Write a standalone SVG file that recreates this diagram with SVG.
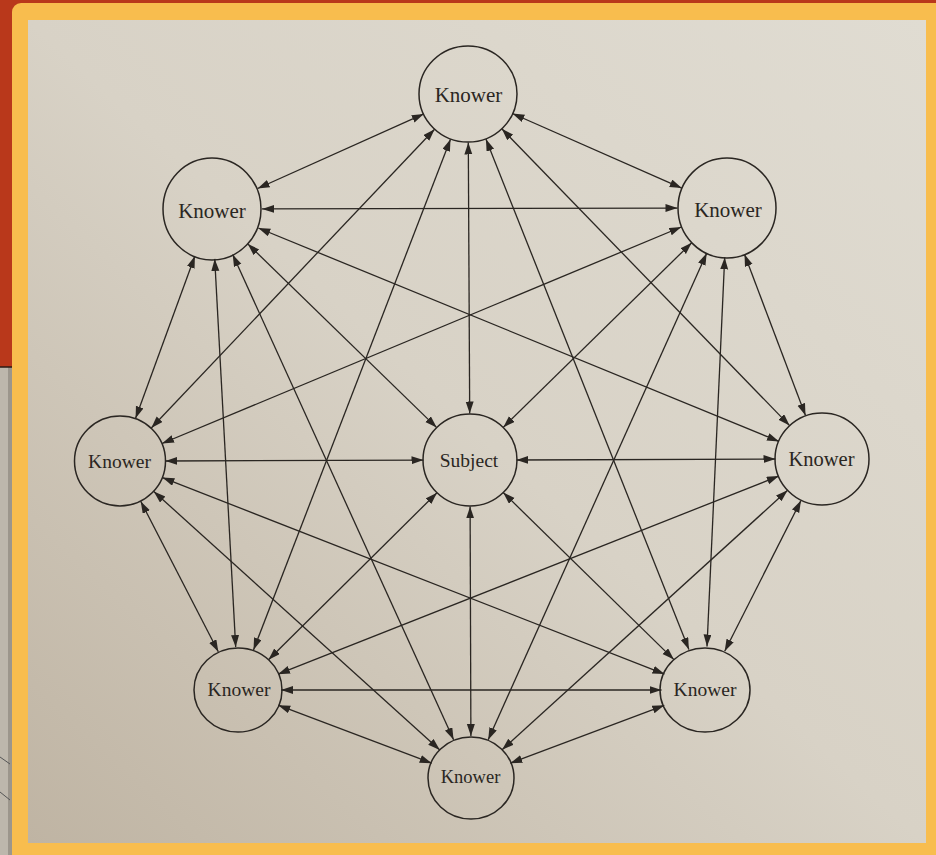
<svg xmlns="http://www.w3.org/2000/svg" width="936" height="855" viewBox="0 0 936 855">
<style>
.node ellipse{fill:none;stroke:#2a2622;stroke-width:1.5}
.node text{font-family:"Liberation Serif","DejaVu Serif",serif;fill:#2a2622;text-anchor:middle}
#connectors line{stroke:#2a2622;stroke-width:1.3;marker-start:url(#ah);marker-end:url(#ah)}
</style>
<defs>
<marker id="ah" markerUnits="userSpaceOnUse" markerWidth="14" markerHeight="9" refX="12" refY="4" orient="auto-start-reverse">
<path d="M0,0 L12,4 L0,8 z" fill="#2a2622"/>
</marker>
<linearGradient id="page" x1="1" y1="0" x2="0" y2="1">
<stop offset="0" stop-color="#e0dcd2"/>
<stop offset="0.5" stop-color="#d8d2c6"/>
<stop offset="1" stop-color="#bfb4a3"/>
</linearGradient>
</defs>
<rect x="0" y="0" width="936" height="855" fill="#b9381b"/>
<rect x="0" y="367" width="12" height="488" fill="#bdb7ac"/>
<rect x="8" y="367" width="4" height="488" fill="#9c968c"/>
<line x1="0" y1="367" x2="12" y2="367" stroke="#2a1a14" stroke-width="1.5"/>
<line x1="0" y1="757" x2="10" y2="764" stroke="#555" stroke-width="1"/>
<line x1="0" y1="792" x2="10" y2="800" stroke="#555" stroke-width="1"/>
<rect x="12" y="3" width="940" height="870" rx="9" fill="#f8bd4e"/>
<rect x="28" y="20" width="898" height="823" fill="url(#page)"/>
<g id="connectors">
<line x1="512.4" y1="113.5" x2="681.7" y2="188.1"/>
<line x1="744.5" y1="254.3" x2="805.5" y2="415.5"/>
<line x1="801.0" y1="500.5" x2="724.7" y2="651.2"/>
<line x1="664.3" y1="705.3" x2="510.3" y2="763.2"/>
<line x1="431.7" y1="763.2" x2="278.2" y2="705.2"/>
<line x1="218.3" y1="651.8" x2="140.8" y2="501.4"/>
<line x1="135.6" y1="418.3" x2="194.9" y2="256.0"/>
<line x1="257.6" y1="188.5" x2="423.8" y2="113.9"/>
<line x1="501.8" y1="128.8" x2="789.6" y2="425.6"/>
<line x1="724.7" y1="257.4" x2="707.0" y2="646.5"/>
<line x1="787.6" y1="490.3" x2="502.1" y2="749.8"/>
<line x1="661.5" y1="690" x2="281" y2="690"/>
<line x1="439.8" y1="749.9" x2="153.8" y2="491.5"/>
<line x1="235.7" y1="647.1" x2="214.7" y2="258.9"/>
<line x1="151.3" y1="428.0" x2="434.6" y2="129.2"/>
<line x1="262" y1="208.9" x2="677.5" y2="208.1"/>
<line x1="485.9" y1="139.1" x2="688.9" y2="649.6"/>
<line x1="706.7" y1="253.2" x2="488.2" y2="739.7"/>
<line x1="778.8" y1="476.1" x2="278.0" y2="674.2"/>
<line x1="664.5" y1="674.1" x2="162.4" y2="477.6"/>
<line x1="453.6" y1="739.8" x2="232.7" y2="254.5"/>
<line x1="253.5" y1="649.9" x2="450.5" y2="139.2"/>
<line x1="162.0" y1="443.5" x2="681.3" y2="227.0"/>
<line x1="258.3" y1="228.0" x2="779.0" y2="441.4"/>
<line x1="469.7" y1="413.5" x2="468.3" y2="142.5"/>
<line x1="503.2" y1="427.4" x2="691.7" y2="242.7"/>
<line x1="516.5" y1="460.0" x2="775.5" y2="459.0"/>
<line x1="503.2" y1="492.5" x2="673.9" y2="659.6"/>
<line x1="470.1" y1="506.5" x2="470.9" y2="736"/>
<line x1="437.0" y1="492.7" x2="268.5" y2="659.7"/>
<line x1="423.5" y1="460.1" x2="165.5" y2="461.0"/>
<line x1="436.7" y1="427.6" x2="247.8" y2="243.9"/>
</g>
<g id="knower-top" class="node"><ellipse cx="468" cy="94" rx="49" ry="48"/><text x="468.5" y="101.5" font-size="21">Knower</text></g>
<g id="knower-top-right" class="node"><ellipse cx="727" cy="208" rx="49" ry="50"/><text x="728" y="217" font-size="21">Knower</text></g>
<g id="knower-right" class="node"><ellipse cx="822" cy="459" rx="47" ry="46"/><text x="821.5" y="466" font-size="20.5">Knower</text></g>
<g id="knower-bottom-right" class="node"><ellipse cx="705" cy="690" rx="45" ry="42"/><text x="705" y="696" font-size="19.5">Knower</text></g>
<g id="knower-bottom" class="node"><ellipse cx="471" cy="778" rx="43" ry="41"/><text x="470.5" y="783" font-size="18.5">Knower</text></g>
<g id="knower-bottom-left" class="node"><ellipse cx="238" cy="690" rx="44" ry="42"/><text x="239" y="696" font-size="19.5">Knower</text></g>
<g id="knower-left" class="node"><ellipse cx="120" cy="461" rx="45.5" ry="45"/><text x="119.5" y="468" font-size="19.5">Knower</text></g>
<g id="knower-top-left" class="node"><ellipse cx="212" cy="209" rx="49" ry="51"/><text x="212" y="218" font-size="21">Knower</text></g>
<g id="subject" class="node"><ellipse cx="470" cy="460" rx="47" ry="46"/><text x="469" y="467" font-size="19.5">Subject</text></g>
</svg>
